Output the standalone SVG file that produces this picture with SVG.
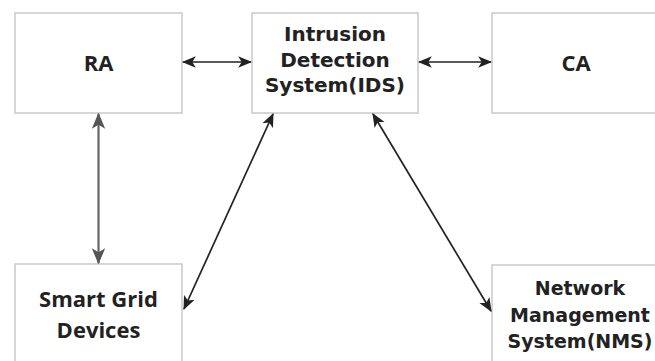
<svg xmlns="http://www.w3.org/2000/svg" width="655" height="361" viewBox="0 0 655 361">
  <defs>
    <style>
      .box { fill: #ffffff; stroke: #c9c9c9; stroke-width: 1.5; }
      .lbl { font-family: "Open Sans", "DejaVu Sans", sans-serif; font-weight: bold; font-size: 22px; fill: #222222; text-anchor: middle; }
      .lbl2 { font-family: "DejaVu Sans", Verdana, sans-serif; font-weight: bold; font-size: 20px; fill: #222222; text-anchor: middle; }
      .link { fill: none; stroke: #222222; stroke-width: 1.7; }
      .link-grey { fill: none; stroke: #666666; stroke-width: 2.2; }
    </style>
    <marker id="head" viewBox="0 0 12 10" refX="11" refY="5" markerWidth="14" markerHeight="13" markerUnits="userSpaceOnUse" orient="auto-start-reverse">
      <path d="M0,0 L12,5 L0,10 L3,5 z" fill="#222222"/>
    </marker>
    <marker id="head-grey" viewBox="0 0 12 10" refX="11" refY="5" markerWidth="16" markerHeight="16" markerUnits="userSpaceOnUse" orient="auto-start-reverse">
      <path d="M0,0 L12,5 L0,10 L3,5 z" fill="#555555"/>
    </marker>
  </defs>
  <rect width="655" height="361" fill="#ffffff"/>

  <g id="ra">
    <rect class="box" x="15" y="13" width="167" height="100"/>
    <text class="lbl" x="98.5" y="71">RA</text>
  </g>

  <g id="ids">
    <rect class="box" x="252" y="13" width="166" height="100"/>
    <text class="lbl2" x="335" y="41">Intrusion</text>
    <text class="lbl2" x="335" y="66.5">Detection</text>
    <text class="lbl2" x="335" y="92">System(IDS)</text>
  </g>

  <g id="ca">
    <rect class="box" x="492" y="13" width="168" height="100"/>
    <text class="lbl" x="576" y="71">CA</text>
  </g>

  <g id="smart-grid">
    <rect class="box" x="15" y="264" width="167" height="100"/>
    <text class="lbl" x="98.5" y="307">Smart Grid</text>
    <text class="lbl" x="98.5" y="338">Devices</text>
  </g>

  <g id="nms">
    <rect class="box" x="492" y="265" width="168" height="100"/>
    <text class="lbl2" x="580" y="295" style="font-size:19px">Network</text>
    <text class="lbl2" x="580" y="322" style="font-size:19px">Management</text>
    <text class="lbl2" x="580" y="348" style="font-size:19px">System(NMS)</text>
  </g>

  <g id="connectors">
    <line class="link" x1="183" y1="62" x2="251" y2="62" marker-start="url(#head)" marker-end="url(#head)"/>
    <line class="link" x1="419" y1="62" x2="491" y2="62" marker-start="url(#head)" marker-end="url(#head)"/>
    <line class="link-grey" x1="98.5" y1="114" x2="98.5" y2="263" marker-start="url(#head-grey)" marker-end="url(#head-grey)"/>
    <line class="link" x1="273" y1="114" x2="184" y2="309" marker-start="url(#head)" marker-end="url(#head)"/>
    <line class="link" x1="373" y1="114" x2="491" y2="311" marker-start="url(#head)" marker-end="url(#head)"/>
  </g>
</svg>
